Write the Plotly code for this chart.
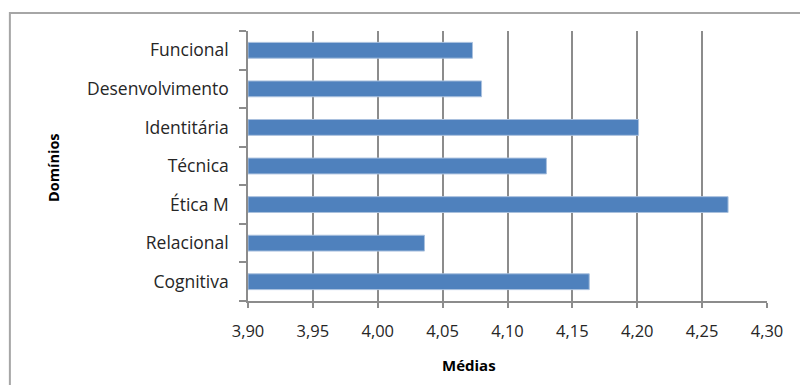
import plotly.graph_objects as go

categories = ["Funcional", "Desenvolvimento", "Identitária", "Técnica", "Ética M", "Relacional", "Cognitiva"]
values = [4.073, 4.080, 4.201, 4.130, 4.270, 4.036, 4.163]
x_ticks = [3.90, 3.95, 4.00, 4.05, 4.10, 4.15, 4.20, 4.25, 4.30]
x_tick_labels = ["3,90", "3,95", "4,00", "4,05", "4,10", "4,15", "4,20", "4,25", "4,30"]
axis_min = 3.90

FONT = "Open Sans"

fig = go.Figure(go.Bar(
    y=categories, x=[v - axis_min for v in values], orientation="h",
    base=axis_min,
    marker=dict(color="#4F81BD", line=dict(color="#A9C0DE", width=1)),
    hovertext=[f"{v:.3f}" for v in values],
))

fig.update_layout(
    width=800, height=385,
    margin=dict(l=247.5, r=32.7, t=31, b=84),
    paper_bgcolor="white", plot_bgcolor="white",
    bargap=0.59,
    showlegend=False,
    font=dict(family=FONT, size=16, color="#262626"),
)
fig.update_xaxes(
    range=[3.90, 4.30], tickvals=x_ticks, ticktext=x_tick_labels,
    showgrid=True, gridcolor="#8C8C8C", gridwidth=1.5,
    showline=True, linecolor="#8C8C8C", linewidth=1.5,
    ticks="outside", ticklen=5, tickcolor="#8C8C8C", tickwidth=1.5,
    tickfont=dict(family=FONT, size=16.5, color="#262626"),
    ticklabelstandoff=9,
    zeroline=False, fixedrange=True,
)
fig.update_yaxes(
    categoryorder="array", categoryarray=categories[::-1],
    showline=True, linecolor="#8C8C8C", linewidth=1.5,
    ticks="outside", ticklen=7, tickcolor="#8C8C8C", tickwidth=1.5,
    tickson="boundaries",
    showgrid=False, zeroline=False,
    tickfont=dict(family=FONT, size=17.5, color="#262626"),
    ticklabelstandoff=14,
)
fig.add_shape(type="rect", xref="paper", yref="paper",
              x0=-0.4588, x1=1.2, y0=-0.5, y1=1.0667,
              line=dict(color="#A6A6A6", width=2), layer="below")
fig.add_annotation(text="<b>Domínios</b>", xref="paper", yref="paper",
                   x=-0.376, y=0.496, xanchor="center", yanchor="middle",
                   textangle=-90, showarrow=False,
                   font=dict(family=FONT, size=14.5, color="black"))
fig.add_annotation(text="<b>Médias</b>", xref="paper", yref="paper",
                   x=0.426, y=-0.237, xanchor="center", yanchor="middle",
                   showarrow=False,
                   font=dict(family=FONT, size=15, color="black"))

fig.write_html("out.html")
